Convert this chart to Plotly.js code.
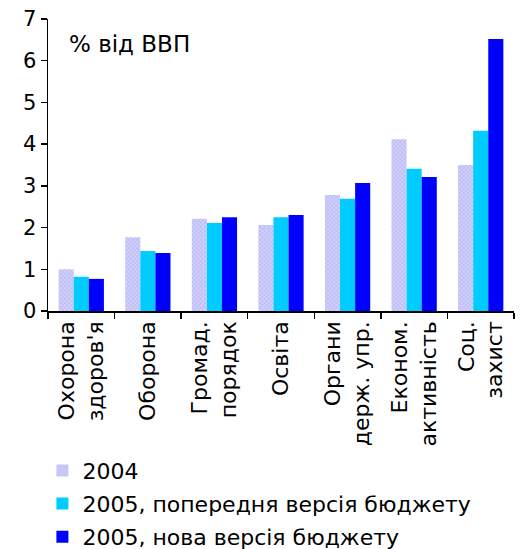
<!DOCTYPE html>
<html>
<head>
<meta charset="utf-8">
<script src="https://cdn.plot.ly/plotly-3.0.1.min.js"></script>
<style>html,body{margin:0;padding:0;background:#fff;}#chart{width:522px;height:549px;}</style>
</head>
<body>
<div id="chart"></div>
<script>
const categories = ["Охорона<br>здоров'я", "Оборона", "Громад.<br>порядок", "Освіта", "Органи<br>держ. упр.", "Економ.<br>активність", "Соц.<br>захист"];
const seriesNames = ["2004", "2005, попередня версія бюджету", "2005, нова версія бюджету"];
const values2004 = [1.00, 1.77, 2.21, 2.06, 2.78, 4.12, 3.50];
const values2005old = [0.82, 1.44, 2.11, 2.25, 2.69, 3.41, 4.32];
const values2005new = [0.77, 1.39, 2.25, 2.30, 3.07, 3.21, 6.52];
const yTicks = [0, 1, 2, 3, 4, 5, 6, 7];
const unitLabel = "% від ВВП";

const FONT = "DejaVu Sans, Verdana, sans-serif";

const traces = [
  {type: "bar", name: seriesNames[0], x: categories, y: values2004, legendgroup: "a",
   marker: {color: "#c8c8f8", pattern: {shape: "x", size: 3, solidity: 0.3, fgcolor: "#a8a8ee", bgcolor: "#d0d0fc"}, line: {width: 0}}},
  {type: "bar", name: seriesNames[1], x: categories, y: values2005old, legendgroup: "b",
   marker: {color: "#00ccff", line: {width: 0}}},
  {type: "bar", name: seriesNames[2], x: categories, y: values2005new, legendgroup: "c",
   marker: {color: "#0000ff", line: {width: 0}}}
];

const layout = {
  width: 522, height: 549,
  margin: {l: 48, r: 8, t: 19, b: 238},
  paper_bgcolor: "#fff", plot_bgcolor: "#fff",
  font: {family: FONT, size: 21, color: "#000"},
  barmode: "group", bargap: 0.32, bargroupgap: 0,
  showlegend: true,
  legend: {xref: "paper", yref: "container", x: -0.012, xanchor: "left", y: 0.181, yanchor: "top", orientation: "v",
           font: {family: FONT, size: 22, color: "#000"}, tracegroupgap: 1.5, bgcolor: "rgba(0,0,0,0)"},
  xaxis: {type: "category", tickangle: -90, showline: true, linecolor: "#000", linewidth: 1.5,
          ticks: "outside", ticklen: 6, tickcolor: "#000", tickwidth: 1.5, tickson: "boundaries",
          showgrid: false, zeroline: false, automargin: false, tickfont: {family: FONT, size: 22, color: "#000"}},
  yaxis: {range: [0, 7], tickvals: yTicks, showline: true, linecolor: "#000", linewidth: 1.5,
          ticks: "outside", ticklen: 6, tickcolor: "#000", tickwidth: 1.5,
          showgrid: false, zeroline: false, automargin: false, tickfont: {family: FONT, size: 21, color: "#000"}},
  annotations: [{text: unitLabel, xref: "paper", yref: "paper", x: 0.04, y: 0.915, xanchor: "left", yanchor: "middle",
                 showarrow: false, font: {family: FONT, size: 23, color: "#000"}}]
};

Plotly.newPlot("chart", traces, layout, {displayModeBar: false, staticPlot: true});
</script>
</body>
</html>
